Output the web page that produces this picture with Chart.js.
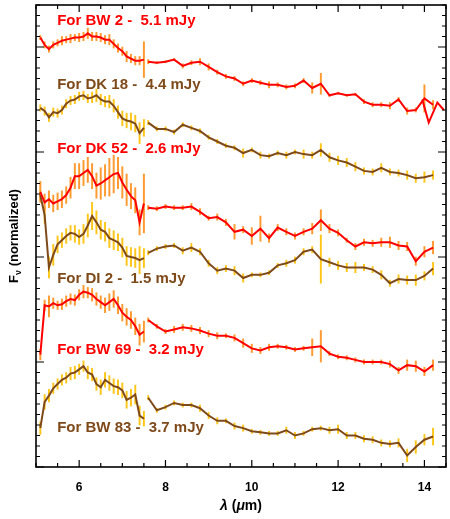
<!DOCTYPE html>
<html>
<head>
<meta charset="utf-8">
<script src="https://cdn.jsdelivr.net/npm/chart.js@4.4.0/dist/chart.umd.min.js"></script>
<style>
  html, body { margin: 0; padding: 0; background: #fff; }
</style>
</head>
<body>
<canvas id="specChart" width="450" height="519"></canvas>
<script>
// wavelength grids (micron): short-low module, long part, overlap tail
const lamShort = [5.1,5.2,5.3,5.4,5.5,5.6,5.7,5.8,5.9,6.0,6.1,6.2,6.3,6.4,6.5,6.6,6.7,6.8,6.9,7.0,7.1,7.2,7.3,7.4,7.5];
const lamLong = [7.6,7.8,8.0,8.2,8.4,8.6,8.8,9.0,9.2,9.4,9.6,9.8,10.0,10.2,10.4,10.6,10.8,11.0,11.2,11.4,11.6,11.8,12.0,12.2,12.4,12.6,12.8,13.0,13.2,13.4,13.6,13.8,14.0,14.2];
const lamTail = [13.95,14.1,14.3,14.45];

const sourceNames = ['BW 2', 'DK 18', 'DK 52', 'DI 2', 'BW 69', 'BW 83'];
const fluxMJy = ['5.1', '4.4', '2.6', '1.5', '3.2', '3.7'];

// normalized flux (with stacking offset already in)
const bw2Short = [4.09,4.02,3.98,4.02,4.04,4.06,4.07,4.08,4.09,4.09,4.10,4.13,4.10,4.10,4.09,4.07,4.07,4.03,3.99,3.96,3.91,3.89,3.87,3.87,3.88];
const bw2Long = [3.86,3.85,3.86,3.88,3.82,3.85,3.86,3.81,3.76,3.72,3.70,3.65,3.68,3.66,3.64,3.64,3.62,3.63,3.68,3.61,3.65,3.54,3.56,3.54,3.55,3.48,3.45,3.45,3.44,3.50,3.39,3.40,3.51,3.45];
const bw2Tail = [3.50,3.28,3.47,3.40];
const dk18Short = [3.42,3.39,3.33,3.38,3.37,3.40,3.46,3.49,3.50,3.53,3.54,3.51,3.52,3.54,3.50,3.48,3.48,3.44,3.38,3.32,3.30,3.29,3.27,3.18,3.23];
const dk18Long = [3.28,3.22,3.22,3.19,3.26,3.23,3.20,3.14,3.10,3.06,3.04,2.99,3.02,2.97,2.96,2.99,2.97,3.00,2.98,2.97,3.02,2.95,2.92,2.90,2.86,2.82,2.81,2.85,2.81,2.80,2.78,2.75,2.76,2.78];
const dk52Short = [2.62,2.52,2.55,2.51,2.53,2.55,2.59,2.66,2.77,2.77,2.80,2.83,2.77,2.68,2.70,2.73,2.76,2.79,2.80,2.71,2.64,2.58,2.54,2.33,2.51];
const dk52Long = [2.47,2.46,2.48,2.47,2.47,2.48,2.43,2.37,2.38,2.33,2.24,2.26,2.20,2.27,2.18,2.28,2.24,2.20,2.24,2.27,2.35,2.27,2.23,2.16,2.10,2.14,2.13,2.14,2.14,2.11,2.10,1.96,2.05,2.09];
const di2Short = [2.59,2.40,1.90,2.02,2.12,2.16,2.20,2.23,2.22,2.19,2.22,2.30,2.39,2.33,2.26,2.24,2.18,2.16,2.14,2.09,2.01,2.00,1.99,1.97,1.99];
const di2Long = [2.04,2.08,2.10,2.11,2.06,2.09,2.05,1.94,1.87,1.89,1.87,1.80,1.83,1.83,1.85,1.92,1.94,1.97,2.05,2.07,1.98,1.95,1.92,1.90,1.90,1.90,1.88,1.83,1.75,1.79,1.78,1.78,1.82,1.89];
const bw69Short = [1.07,1.54,1.53,1.56,1.54,1.55,1.58,1.60,1.59,1.64,1.67,1.66,1.64,1.60,1.57,1.54,1.57,1.60,1.54,1.47,1.43,1.40,1.34,1.26,1.29];
const bw69Long = [1.40,1.34,1.29,1.31,1.33,1.32,1.30,1.27,1.25,1.25,1.23,1.18,1.13,1.11,1.14,1.15,1.14,1.12,1.13,1.14,1.15,1.08,1.05,1.04,1.02,1.00,1.00,1.00,0.98,0.92,0.97,0.96,0.91,0.97];
const bw83Short = [0.37,0.62,0.68,0.75,0.79,0.83,0.85,0.89,0.90,0.93,0.96,0.90,0.88,0.79,0.76,0.83,0.80,0.77,0.76,0.73,0.64,0.66,0.69,0.49,0.46];
const bw83Long = [0.66,0.54,0.57,0.61,0.59,0.59,0.56,0.49,0.44,0.44,0.39,0.37,0.34,0.33,0.32,0.32,0.35,0.30,0.32,0.36,0.37,0.35,0.36,0.30,0.30,0.27,0.26,0.23,0.22,0.23,0.11,0.19,0.26,0.29];

// 1-sigma errors
const bw2ErrShort = [0.02,0.03,0.03,0.03,0.03,0.04,0.03,0.04,0.03,0.04,0.04,0.05,0.04,0.04,0.04,0.04,0.05,0.04,0.04,0.04,0.05,0.04,0.04,0.04,0.17];
const bw2ErrLong = [0.02,0.01,0.01,0.01,0.02,0.02,0.03,0.03,0.02,0.02,0.02,0.02,0.02,0.02,0.03,0.02,0.02,0.02,0.02,0.05,0.10,0.01,0.01,0.01,0.01,0.02,0.02,0.02,0.03,0.02,0.03,0.02,0.13,0.04];
const dk18ErrShort = [0.03,0.04,0.04,0.04,0.04,0.04,0.04,0.04,0.04,0.04,0.04,0.04,0.05,0.06,0.05,0.05,0.06,0.06,0.06,0.07,0.07,0.08,0.08,0.10,0.08];
const dk18ErrLong = [0.02,0.02,0.02,0.02,0.02,0.02,0.02,0.02,0.02,0.02,0.02,0.04,0.02,0.03,0.02,0.02,0.03,0.02,0.04,0.03,0.06,0.04,0.04,0.04,0.04,0.03,0.03,0.04,0.03,0.03,0.04,0.04,0.05,0.04];
const dk52ErrShort = [0.10,0.08,0.08,0.08,0.08,0.08,0.08,0.10,0.12,0.12,0.12,0.12,0.12,0.12,0.15,0.15,0.18,0.18,0.15,0.15,0.15,0.12,0.12,0.12,0.28];
const dk52ErrLong = [0.02,0.02,0.02,0.02,0.02,0.03,0.03,0.02,0.03,0.03,0.07,0.03,0.08,0.12,0.04,0.03,0.03,0.03,0.03,0.05,0.10,0.04,0.03,0.02,0.03,0.03,0.03,0.04,0.05,0.04,0.04,0.04,0.05,0.06];
const di2ErrShort = [0.05,0.08,0.10,0.10,0.08,0.07,0.07,0.07,0.08,0.07,0.09,0.11,0.13,0.11,0.09,0.09,0.09,0.09,0.08,0.09,0.09,0.09,0.09,0.13,0.09];
const di2ErrLong = [0.02,0.02,0.02,0.02,0.03,0.04,0.03,0.03,0.03,0.03,0.04,0.04,0.02,0.02,0.02,0.02,0.03,0.03,0.03,0.03,0.23,0.04,0.04,0.04,0.05,0.03,0.03,0.04,0.03,0.04,0.04,0.05,0.04,0.06];
const bw69ErrShort = [0.05,0.05,0.10,0.05,0.04,0.05,0.05,0.05,0.05,0.05,0.06,0.05,0.06,0.06,0.06,0.07,0.08,0.08,0.08,0.08,0.08,0.08,0.08,0.10,0.10];
const bw69ErrLong = [0.02,0.02,0.02,0.03,0.03,0.03,0.03,0.03,0.03,0.02,0.03,0.04,0.04,0.03,0.03,0.02,0.02,0.02,0.02,0.08,0.15,0.02,0.02,0.02,0.02,0.02,0.02,0.02,0.03,0.03,0.05,0.05,0.04,0.05];
const bw83ErrShort = [0.06,0.07,0.06,0.05,0.05,0.05,0.05,0.06,0.06,0.05,0.05,0.06,0.06,0.06,0.07,0.07,0.07,0.07,0.07,0.07,0.08,0.08,0.09,0.09,0.07];
const bw83ErrLong = [0.02,0.02,0.02,0.02,0.02,0.02,0.03,0.03,0.03,0.02,0.03,0.03,0.02,0.02,0.02,0.02,0.03,0.03,0.02,0.02,0.02,0.03,0.04,0.03,0.03,0.03,0.03,0.03,0.03,0.04,0.06,0.06,0.05,0.08];

const RED = '#ff0000', BROWN = '#7f4a1a';
const ORANGE = '#ff9a30', GOLD = '#ffc61a';
const FONT = '"Liberation Sans", Arial, Helvetica, sans-serif';

const spectra = [
  { name: sourceNames[0], flux: fluxMJy[0], color: RED,   err: ORANGE, s: bw2Short,  l: bw2Long,  es: bw2ErrShort,  el: bw2ErrLong,  labelY: 4.25 },
  { name: sourceNames[1], flux: fluxMJy[1], color: BROWN, err: GOLD,   s: dk18Short, l: dk18Long, es: dk18ErrShort, el: dk18ErrLong, labelY: 3.64 },
  { name: sourceNames[2], flux: fluxMJy[2], color: RED,   err: ORANGE, s: dk52Short, l: dk52Long, es: dk52ErrShort, el: dk52ErrLong, labelY: 3.03 },
  { name: sourceNames[3], flux: fluxMJy[3], color: BROWN, err: GOLD,   s: di2Short,  l: di2Long,  es: di2ErrShort,  el: di2ErrLong,  labelY: 1.79 },
  { name: sourceNames[4], flux: fluxMJy[4], color: RED,   err: ORANGE, s: bw69Short, l: bw69Long, es: bw69ErrShort, el: bw69ErrLong, labelY: 1.12 },
  { name: sourceNames[5], flux: fluxMJy[5], color: BROWN, err: GOLD,   s: bw83Short, l: bw83Long, es: bw83ErrShort, el: bw83ErrLong, labelY: 0.37 }
];

function lineSet(lam, vals, color) {
  return {
    type: 'line',
    data: lam.map((x, i) => ({ x: x, y: vals[i] })),
    borderColor: color,
    borderWidth: 2,
    pointRadius: 0,
    fill: false,
    tension: 0,
    order: 1
  };
}

// error bars as thin floating bars
function errSet(lam, vals, errs, color) {
  return {
    type: 'bar',
    data: lam.map((x, i) => ({ x: x, y: [vals[i] - errs[i], vals[i] + errs[i]] })),
    backgroundColor: color,
    borderWidth: 0,
    barThickness: 1.3,
    grouped: false,
    order: 2
  };
}

const datasets = [];
spectra.forEach(sp => {
  datasets.push(errSet(lamShort, sp.s, sp.es, sp.err));
  datasets.push(errSet(lamLong, sp.l, sp.el, sp.err));
  datasets.push(lineSet(lamShort, sp.s, sp.color));
  datasets.push(lineSet(lamLong, sp.l, sp.color));
});
datasets.push(lineSet(lamTail, bw2Tail, RED));

// inward ticks on all four sides + frame
const frameTicks = {
  id: 'frameTicks',
  afterDatasetsDraw(chart) {
    const { ctx, chartArea: a, scales: { x, y } } = chart;
    ctx.save();
    ctx.strokeStyle = '#000';
    ctx.lineWidth = 1.2;
    ctx.beginPath();
    x.ticks.forEach(t => {
      const px = x.getPixelForValue(t.value);
      const len = Math.abs(t.value / 2 - Math.round(t.value / 2)) < 1e-6 ? 7 : 4;
      ctx.moveTo(px, a.bottom); ctx.lineTo(px, a.bottom - len);
      ctx.moveTo(px, a.top); ctx.lineTo(px, a.top + len);
    });
    y.ticks.forEach(t => {
      const py = y.getPixelForValue(t.value);
      const len = Math.abs(t.value - Math.round(t.value)) < 1e-6 ? 8 : 4;
      ctx.moveTo(a.left, py); ctx.lineTo(a.left + len, py);
      ctx.moveTo(a.right, py); ctx.lineTo(a.right - len, py);
    });
    ctx.stroke();
    ctx.lineWidth = 1.6;
    ctx.strokeRect(a.left, a.top, a.right - a.left, a.bottom - a.top);
    ctx.restore();
  }
};

// source labels and axis titles
const textBits = {
  id: 'textBits',
  afterDraw(chart) {
    const { ctx, chartArea: a, scales: { x, y } } = chart;
    ctx.save();
    ctx.font = 'bold 15px ' + FONT;
    ctx.textAlign = 'left';
    ctx.textBaseline = 'middle';
    spectra.forEach(sp => {
      ctx.fillStyle = sp.color;
      ctx.fillText('For ' + sp.name + ' -  ' + sp.flux + ' mJy', x.getPixelForValue(5.49), y.getPixelForValue(sp.labelY));
    });

    // y title: F_nu (normalized)
    ctx.fillStyle = '#000';
    ctx.translate(13, (a.top + a.bottom) / 2);
    ctx.rotate(-Math.PI / 2);
    const big = 'bold 13px ' + FONT, small = 'bold 9px ' + FONT;
    ctx.font = big;
    const wF = ctx.measureText('F').width;
    const wRest = ctx.measureText(' (normalized)').width;
    ctx.font = small;
    const wNu = ctx.measureText('\u03bd').width;
    let cx = -(wF + wNu + wRest) / 2;
    ctx.textBaseline = 'alphabetic';
    ctx.font = big; ctx.fillText('F', cx, 5); cx += wF;
    ctx.font = small; ctx.fillText('\u03bd', cx, 8); cx += wNu;
    ctx.font = big; ctx.fillText(' (normalized)', cx, 5);
    ctx.setTransform(1, 0, 0, 1, 0, 0);

    // x title: lambda (mu m)
    const parts = [
      ['\u03bb', 'italic bold 14px ' + FONT],
      [' (', 'bold 14px ' + FONT],
      ['\u03bc', 'italic bold 14px ' + FONT],
      ['m)', 'bold 14px ' + FONT]
    ];
    let total = 0;
    parts.forEach(p => { ctx.font = p[1]; total += ctx.measureText(p[0]).width; });
    let tx = (a.left + a.right) / 2 - total / 2;
    parts.forEach(p => { ctx.font = p[1]; ctx.fillText(p[0], tx, 510); tx += ctx.measureText(p[0]).width; });
    ctx.restore();
  }
};

new Chart(document.getElementById('specChart'), {
  type: 'line',
  data: { datasets: datasets },
  options: {
    responsive: false,
    devicePixelRatio: 1,
    animation: false,
    layout: { padding: { top: 5, right: 4, left: 0, bottom: 0 } },
    plugins: { legend: { display: false }, tooltip: { enabled: false } },
    scales: {
      x: {
        type: 'linear',
        min: 5,
        max: 14.5,
        offset: false,
        grid: { display: false, offset: false, drawTicks: true, tickLength: 13 },
        border: { display: false },
        ticks: {
          stepSize: 0.5,
          autoSkip: false,
          maxRotation: 0,
          padding: 0,
          color: '#000',
          font: { family: FONT, weight: 'bold', size: 12 },
          callback: v => (Math.abs(v / 2 - Math.round(v / 2)) < 1e-6 ? String(v) : '')
        },
        afterFit: s => { s.height = 52; s.paddingLeft = 0; s.paddingRight = 0; }
      },
      y: {
        type: 'linear',
        min: 0,
        max: 4.4,
        grid: { display: false, drawTicks: false },
        border: { display: false },
        ticks: { display: false, stepSize: 0.1 },
        afterFit: s => { s.width = 36; }
      }
    }
  },
  plugins: [frameTicks, textBits]
});
</script>
</body>
</html>
